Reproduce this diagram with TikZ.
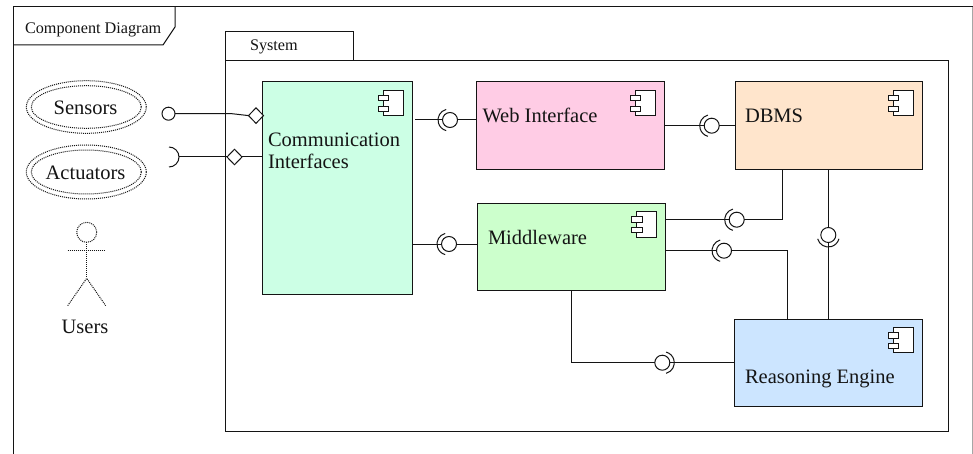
\documentclass[tikz,border=0pt]{standalone}
\usepackage{fontspec}
\setmainfont{Liberation Serif}
\usetikzlibrary{shapes.geometric}
\definecolor{ink}{HTML}{141414}
\definecolor{compA}{HTML}{CCFFE5}
\definecolor{compB}{HTML}{FFCCE5}
\definecolor{compC}{HTML}{FFE5CC}
\definecolor{compD}{HTML}{CCFFCC}
\definecolor{compE}{HTML}{CCE5FF}
\tikzset{
  x=1pt,y=-1pt,
  every node/.style={inner sep=0pt,outer sep=0pt},
  frameline/.style={draw=ink,line width=1pt},
  comp/.style={draw=ink,line width=1pt,rectangle,anchor=north west},
  iconbody/.style={draw=ink,line width=1pt,fill=white,rectangle,minimum width=20.3pt,minimum height=25.3pt},
  iconpin/.style={draw=ink,line width=1pt,fill=white,rectangle,minimum width=10.7pt,minimum height=5.2pt},
  lbl/.style={font=\fontsize{20.5}{27}\selectfont,text=ink},
  small/.style={font=\fontsize{16.2}{20}\selectfont,text=ink},
  conn/.style={draw=ink,line width=1pt},
  ball/.style={circle,draw=ink,line width=1pt,fill=white,minimum size=15pt},
  dmd/.style={diamond,draw=ink,line width=1pt,fill=white,minimum width=15pt,minimum height=15.5pt},
  dots/.style={draw=ink,line width=1pt,dash pattern=on 1pt off 1pt},
  usecase/.style={ellipse,dots},
}
% \joint{name}{x}{y}{angle the socket bulges to}
\newcommand{\joint}[4]{%
  \node[ball] (#1) at (#2,#3) {};
  \draw[conn] (#1.center) ++(#4:1pt) ++(#4-75:11pt) arc[start angle=#4-75,end angle=#4+75,radius=11pt];
}
% \icon{prefix}{x of body centre}{y of body centre}
\newcommand{\icon}[3]{%
  \node[iconbody] (#1body) at (#2,#3) {};
  \node[iconpin] (#1pa) at (#2-9.7,#3-4.9) {};
  \node[iconpin] (#1pb) at (#2-9.7,#3+5.5) {};
}
\begin{document}
\begin{tikzpicture}
\useasboundingbox (0,0) rectangle (973,454);
\fill[white] (0,0) rectangle (973,454);
% outer frame
\coordinate (frTL) at (13,7);
\coordinate (frBL) at (13,454);
\coordinate (frTR) at (973,7);
\coordinate (frBR) at (972.5,454);
\coordinate (frTR2) at (972.5,7);
\draw[frameline] (frBL) -- (frTL) -- (frTR);
\draw[draw=gray!70,line width=.8pt] (frTR2) -- (frBR);
\draw[frameline] (13,45) -- (163,45) -- (175,27) -- (175,7);
\node[small,anchor=west] (title) at (25,29.5) {Component Diagram};
% system
\draw[frameline] (225,61) rectangle (948,431);
\draw[frameline] (225,61) -- (225,32) -- (353,32) -- (353,61);
\node[small,anchor=west] (system) at (250,47) {System};
% components
\node[comp,fill=compA,minimum width=150pt,minimum height=212pt] (comm) at (262,82) {};
\node[comp,fill=compB,minimum width=187.5pt,minimum height=87.3pt] (web) at (476.7,82) {};
\node[comp,fill=compC,minimum width=187.3pt,minimum height=87.3pt] (dbms) at (735,82) {};
\node[comp,fill=compD,minimum width=187.8pt,minimum height=87.3pt] (mid) at (477.7,203.3) {};
\node[comp,fill=compE,minimum width=187.6pt,minimum height=87.7pt] (reas) at (734.7,319) {};
\icon{ic}{393.3}{103.3}
\icon{iw}{645.2}{103.3}
\icon{id}{903.3}{103.3}
\icon{im}{646.7}{224.5}
\icon{ir}{903.3}{340.3}
\node[lbl,anchor=base west,align=left] (commt) at (268,147) {Communication};
\node[lbl,anchor=base west] (commt2) at (268,169) {Interfaces};
\node[lbl,anchor=base west] (webt) at (482.5,123) {Web Interface};
\node[lbl,anchor=base west] (dbmst) at (745,123) {DBMS};
\node[lbl,anchor=base west] (midt) at (488,244) {Middleware};
\node[lbl,anchor=base west] (reast) at (745,383) {Reasoning Engine};
% joints
\joint{j1}{450}{120}{180}
\joint{j2}{711.7}{125.7}{180}
\joint{j3}{449}{244}{180}
\joint{j4}{736.7}{219.7}{180}
\joint{j5}{724}{250.7}{180}
\joint{j6}{828.3}{235}{-90}
\joint{j7}{662.3}{362.7}{0}
\coordinate (free1) at (415,120);
\draw[conn] (free1) -- (j1.west);
\draw[conn] (j1.east) -- (web.west |- j1);
\draw[conn] (web.east |- j2) -- (j2.west);
\draw[conn] (j2.east) -- (dbms.west |- j2);
\draw[conn] (comm.east |- j3) -- (j3.west);
\draw[conn] (j3.east) -- (mid.west |- j3);
\draw[conn] (mid.east |- j4) -- (j4.west);
\coordinate (c4) at (782.3,219.7);
\draw[conn] (j4.east) -- (c4) -- (c4 |- dbms.south);
\draw[conn] (mid.east |- j5) -- (j5.west);
\coordinate (c5) at (787.3,250.7);
\draw[conn] (j5.east) -- (c5) -- (c5 |- reas.north);
\draw[conn] (j6 |- dbms.south) -- (j6.north);
\draw[conn] (j6.south) -- (j6 |- reas.north);
\coordinate (c7) at (571.7,362.7);
\draw[conn] (c7 |- mid.south) -- (c7) -- (j7.west);
\draw[conn] (j7.east) -- (reas.west |- j7);
% external ports
\node[ball,minimum size=13pt] (sball) at (168.5,113.7) {};
\node[dmd] (sdm) at (256,115.6) {};
\coordinate (sbend) at (232,113.7);
\draw[conn] (sball.east) -- (sbend) -- (sdm.west);
\coordinate (asock) at (169,147);
\draw[conn] (asock) arc[start angle=90,end angle=-90,radius=10pt];
\coordinate (amid) at (179,157);
\node[dmd] (adm) at (234.5,157) {};
\draw[conn] (amid) -- (adm.west);
\draw[conn] (adm.east) -- (comm.west |- adm);
% use cases
\node[usecase,minimum width=120pt,minimum height=52.6pt] (sens) at (86.3,107) {};
\node[usecase,minimum width=110pt,minimum height=42.6pt] (sensi) at (86.3,107) {};
\node[lbl,anchor=base] (senst) at (85.5,114.5) {Sensors};
\node[usecase,minimum width=120pt,minimum height=54pt] (act) at (86.3,172) {};
\node[usecase,minimum width=110pt,minimum height=44pt] (acti) at (86.3,172) {};
\node[lbl,anchor=base] (actt) at (85.5,179.5) {Actuators};
% actor
\node[circle,dots,minimum size=20pt] (head) at (86.7,232.3) {};
\coordinate (hip) at (86.7,278.3);
\coordinate (armL) at (67.7,250);
\coordinate (armR) at (105.7,250);
\coordinate (legL) at (67.7,305.7);
\coordinate (legR) at (105.7,305.7);
\draw[dots] (head.south) -- (hip);
\draw[dots] (armL) -- (armR);
\draw[dots] (legL) -- (hip) -- (legR);
\node[lbl,anchor=base] (users) at (85,333) {Users};
\end{tikzpicture}
\end{document}
